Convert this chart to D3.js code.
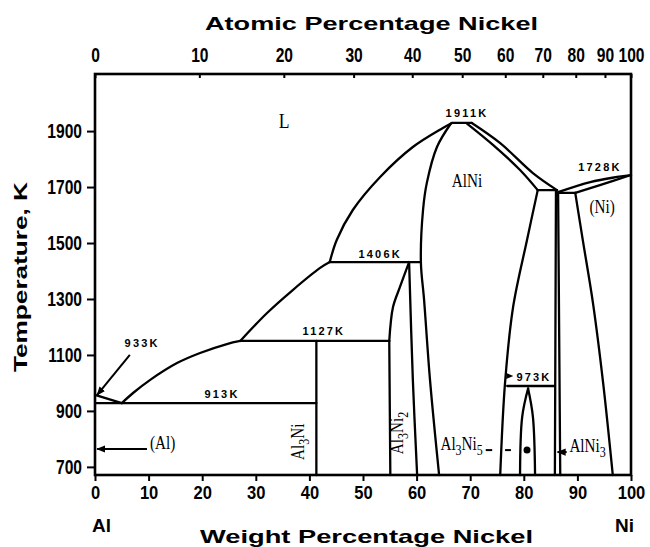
<!DOCTYPE html>
<html>
<head>
<meta charset="utf-8" />
<script src="https://d3js.org/d3.v7.min.js"></script>
<style>
body { margin: 0; background: #fff; }
svg { display: block; background: #fff; }
.boundary { fill: none; stroke: #000; stroke-width: 2.3px; stroke-linejoin: round; stroke-linecap: round; }
.frame { fill: none; stroke: #000; stroke-width: 2.6px; }
.axis line { stroke: #000; stroke-width: 2px; }
.axis text { font-family: "Liberation Sans", Arial, sans-serif; font-weight: bold; fill: #000; }
.title { font-family: "Liberation Sans", Arial, sans-serif; font-weight: bold; font-size: 19px; fill: #000; }
.temp { font-family: "Liberation Sans", Arial, sans-serif; font-weight: bold; font-size: 11px; letter-spacing: 2.2px; fill: #000; }
.phase { font-family: "Liberation Serif", "DejaVu Serif", serif; font-size: 19px; fill: #000; }
</style>
</head>
<body>
<svg width="650" height="547"></svg>
<script>
// axis ticks
const wtTicks = [0, 10, 20, 30, 40, 50, 60, 70, 80, 90, 100]
const atTicks = [0, 10, 20, 30, 40, 50, 60, 70, 80, 90, 100]
const tempTicks = [700, 900, 1100, 1300, 1500, 1700, 1900]

// phase boundaries, [wt% Ni, T in K]
const alLiquidus = [[0, 957], [5.0, 928]]
const eutectic913 = [[0, 928], [41.3, 928]]
const liquidusA = [[5.0, 928], [7.1, 964], [10.3, 1011], [15.3, 1071], [19.6, 1107], [24.6, 1139], [27.1, 1150]]
const peritectic1127 = [[27.1, 1150], [54.9, 1150]]
const al3ni = [[41.3, 1150], [41.3, 671]]
const liquidusB = [[27.1, 1150], [32.1, 1250], [36.9, 1332], [42.0, 1411], [43.8, 1432]]
const peritectic1406 = [[43.8, 1432], [60.8, 1432]]
const liquidusC = [[43.8, 1432], [45.1, 1511], [48.1, 1618], [53.2, 1736], [59.3, 1843], [64.9, 1911], [66.6, 1929]]
const peakTop = [[66.6, 1929], [70.3, 1929]]
const alNiLeft = [[66.4, 1927], [63.8, 1843], [61.9, 1714], [61.2, 1618], [60.8, 1432], [61.4, 1296], [62.5, 1011], [64.2, 671]]
const al3ni2Left = [[58.6, 1432], [56.9, 1343], [55.6, 1271], [54.9, 1150]]
const al3ni2LeftLow = [[54.9, 1150], [55.1, 671]]
const al3ni2Right = [[58.6, 1432], [59.3, 1011], [60.1, 671]]
const liquidusD = [[70.3, 1929], [75.6, 1857], [81.7, 1750], [86.2, 1689]]
const alNiSolidusR = [[69.4, 1927], [74.3, 1850], [79.3, 1761], [82.6, 1689]]
const peritectic1689 = [[82.6, 1689], [86.2, 1689]]
const alNiRight = [[82.6, 1689], [80.6, 1511], [78.0, 1271], [76.5, 1000], [75.6, 671]]
const alNi3Left = [[86.0, 1689], [85.8, 671]]
const alNi3Right = [[86.4, 1679], [86.8, 671]]
const eutectic1679 = [[86.4, 1679], [89.6, 1679]]
const niLiquidus = [[86.4, 1682], [92.4, 1718], [97.4, 1736], [100, 1743]]
const niSolidus = [[89.6, 1679], [94.2, 1707], [100, 1743]]
const niSolvus = [[89.6, 1679], [91.0, 1511], [92.9, 1286], [94.8, 1000], [96.6, 671]]
const peritectoid973 = [[76.9, 989], [85.8, 989]]
const al3ni5Left = [[80.8, 980], [79.7, 879], [79.3, 671]]
const al3ni5Right = [[80.8, 980], [81.7, 879], [82.1, 671]]

const straight = [alLiquidus, eutectic913, peritectic1127, al3ni, peritectic1406, peakTop, al3ni2LeftLow,
    peritectic1689, alNi3Left, alNi3Right, eutectic1679, peritectoid973]
const curved = [liquidusA, liquidusB, liquidusC, alNiLeft, al3ni2Left, al3ni2Right, liquidusD, alNiSolidusR,
    alNiRight, niLiquidus, niSolidus, niSolvus, al3ni5Left, al3ni5Right]

// labels: [text, wt, T]
const tempLabels = [['1911K', 69.4, 1965], ['1728K', 94.2, 1772], ['1406K', 53.2, 1461], ['1127K', 42.7, 1186],
    ['913K', 23.7, 960], ['973K', 81.9, 1021], ['933K', 8.8, 1143]]
// phase names: [parts, wt, T, rotated]
const phaseLabels = [
    [[['L', 0]], 35.3, 1911, false],
    [[['AlNi', 0]], 69.4, 1700, false],
    [[['(Ni)', 0]], 94.6, 1607, false],
    [[['(Al)', 0]], 12.6, 764, false],
    [[['Al', 0], ['3', 1], ['Ni', 0]], 39.0, 790, true],
    [[['Al', 0], ['3', 1], ['Ni', 0], ['2', 1]], 57.4, 821, true],
    [[['Al', 0], ['3', 1], ['Ni', 0], ['5', 1]], 68.4, 760, false],
    [[['AlNi', 0], ['3', 1]], 91.9, 753, false]
]
// arrows: [from, to]
const arrows = [[[6.5, 1100], [0.4, 957]], [[9.7, 764], [0.4, 764]], [[88.0, 753], [86.3, 753]]]
const leaderDashes = [[[72.9, 760], [74.1, 760]], [[76.5, 760], [77.6, 760]]]
const leaderDot = [80.6, 760]
const arrowHead973 = [77.3, 1025]

const svg = d3.select('svg')
const x = d3.scaleLinear().domain([0, 100]).range([95, 631])
const y = d3.scaleLinear().domain([671, 2104]).range([475, 74])

// atomic % -> weight % Ni
const wtFromAt = (a) => 100 * a * 58.69 / (a * 58.69 + (100 - a) * 26.98)
const xAt = d3.scaleLinear().domain(atTicks).range(atTicks.map((a) => x(wtFromAt(a))))

svg.append('defs').append('marker')
    .attr('id', 'head')
    .attr('viewBox', '0 0 10 10')
    .attr('refX', 9).attr('refY', 5)
    .attr('markerWidth', 9).attr('markerHeight', 9)
    .attr('markerUnits', 'userSpaceOnUse')
    .attr('orient', 'auto')
    .append('path').attr('d', 'M0,1 L10,5 L0,9 Z').attr('fill', '#000')

svg.append('rect').attr('class', 'frame')
    .attr('x', x(0)).attr('y', y(2104))
    .attr('width', x(100) - x(0)).attr('height', y(671) - y(2104))

const lineStraight = d3.line().x((d) => x(d[0])).y((d) => y(d[1]))
const lineCurved = d3.line().x((d) => x(d[0])).y((d) => y(d[1])).curve(d3.curveCatmullRom.alpha(0.5))

svg.append('g').selectAll('path').data(straight).enter().append('path')
    .attr('class', 'boundary').attr('d', lineStraight)
svg.append('g').selectAll('path').data(curved).enter().append('path')
    .attr('class', 'boundary').attr('d', lineCurved)

// axes
const gb = svg.append('g').attr('class', 'axis').attr('transform', `translate(0,${y(671)})`)
    .call(d3.axisBottom(x).tickValues(wtTicks).tickFormat(d3.format('d')).tickSize(6).tickPadding(5).tickSizeOuter(0))
gb.select('.domain').remove()
gb.selectAll('text').attr('font-size', 18).attr('transform', 'scale(0.92,1)')

const gl = svg.append('g').attr('class', 'axis').attr('transform', `translate(${x(0)},0)`)
    .call(d3.axisLeft(y).tickValues(tempTicks).tickFormat(d3.format('d')).tickSize(8).tickPadding(5).tickSizeOuter(0))
gl.select('.domain').remove()
gl.selectAll('text').attr('font-size', 20).attr('transform', 'scale(0.78,1)')
    .attr('x', -13 / 0.78)

const gt = svg.append('g').attr('class', 'axis').attr('transform', `translate(0,${y(2104)})`)
    .call(d3.axisTop(xAt).tickValues(atTicks).tickFormat(d3.format('d')).tickSize(-4).tickPadding(12).tickSizeOuter(0))
gt.select('.domain').remove()
gt.selectAll('text').attr('font-size', 20).attr('transform', 'scale(0.78,1)')

// titles
svg.append('text').attr('class', 'title').attr('x', 205).attr('y', 30)
    .attr('textLength', 333).attr('lengthAdjust', 'spacingAndGlyphs').text('Atomic Percentage Nickel')
svg.append('text').attr('class', 'title').attr('x', 200).attr('y', 543)
    .attr('textLength', 333).attr('lengthAdjust', 'spacingAndGlyphs').text('Weight Percentage Nickel')
svg.append('text').attr('class', 'title').attr('text-anchor', 'middle')
    .attr('transform', 'translate(27,277) rotate(-90)')
    .attr('textLength', 190).attr('lengthAdjust', 'spacingAndGlyphs').text('Temperature, K')
svg.append('text').attr('class', 'title').attr('x', x(0) - 3).attr('y', 532).text('Al')
svg.append('text').attr('class', 'title').attr('x', x(100) + 3).attr('y', 532)
    .attr('text-anchor', 'end').text('Ni')

// temperature labels
svg.append('g').selectAll('text').data(tempLabels).enter().append('text')
    .attr('class', 'temp').attr('text-anchor', 'middle')
    .attr('x', (d) => x(d[1])).attr('y', (d) => y(d[2]) + 4)
    .text((d) => d[0])

// phase labels
phaseLabels.forEach(([parts, wt, t, rot]) => {
    const tr = `translate(${x(wt)},${y(t)})` + (rot ? ' rotate(-90)' : '') + ' scale(0.8,1)'
    const txt = svg.append('text').attr('class', 'phase').attr('text-anchor', 'middle')
        .attr('transform', tr).attr('dy', '0.35em')
    let shift = 0
    parts.forEach(([s, sub]) => {
        const dy = (sub ? 5 : 0) - shift
        shift = sub ? 5 : 0
        txt.append('tspan').attr('dy', dy).attr('font-size', sub ? 15 : 19).text(s)
    })
    if (parts[0][0] === 'L') txt.attr('font-size', 22).select('tspan').attr('font-size', 22)
})

// arrows and leaders
svg.append('g').selectAll('line').data(arrows).enter().append('line')
    .attr('x1', (d) => x(d[0][0])).attr('y1', (d) => y(d[0][1]))
    .attr('x2', (d) => x(d[1][0])).attr('y2', (d) => y(d[1][1]))
    .attr('stroke', '#000').attr('stroke-width', 2).attr('marker-end', 'url(#head)')
svg.append('g').selectAll('line').data(leaderDashes).enter().append('line')
    .attr('x1', (d) => x(d[0][0])).attr('y1', (d) => y(d[0][1]))
    .attr('x2', (d) => x(d[1][0])).attr('y2', (d) => y(d[1][1]))
    .attr('stroke', '#000').attr('stroke-width', 2)
svg.append('circle').attr('cx', x(leaderDot[0])).attr('cy', y(leaderDot[1])).attr('r', 3.5).attr('fill', '#000')
svg.append('path')
    .attr('transform', `translate(${x(arrowHead973[0])},${y(arrowHead973[1])})`)
    .attr('d', 'M-3,-3 L4,0 L-3,3 Z').attr('fill', '#000')
</script>
</body>
</html>
